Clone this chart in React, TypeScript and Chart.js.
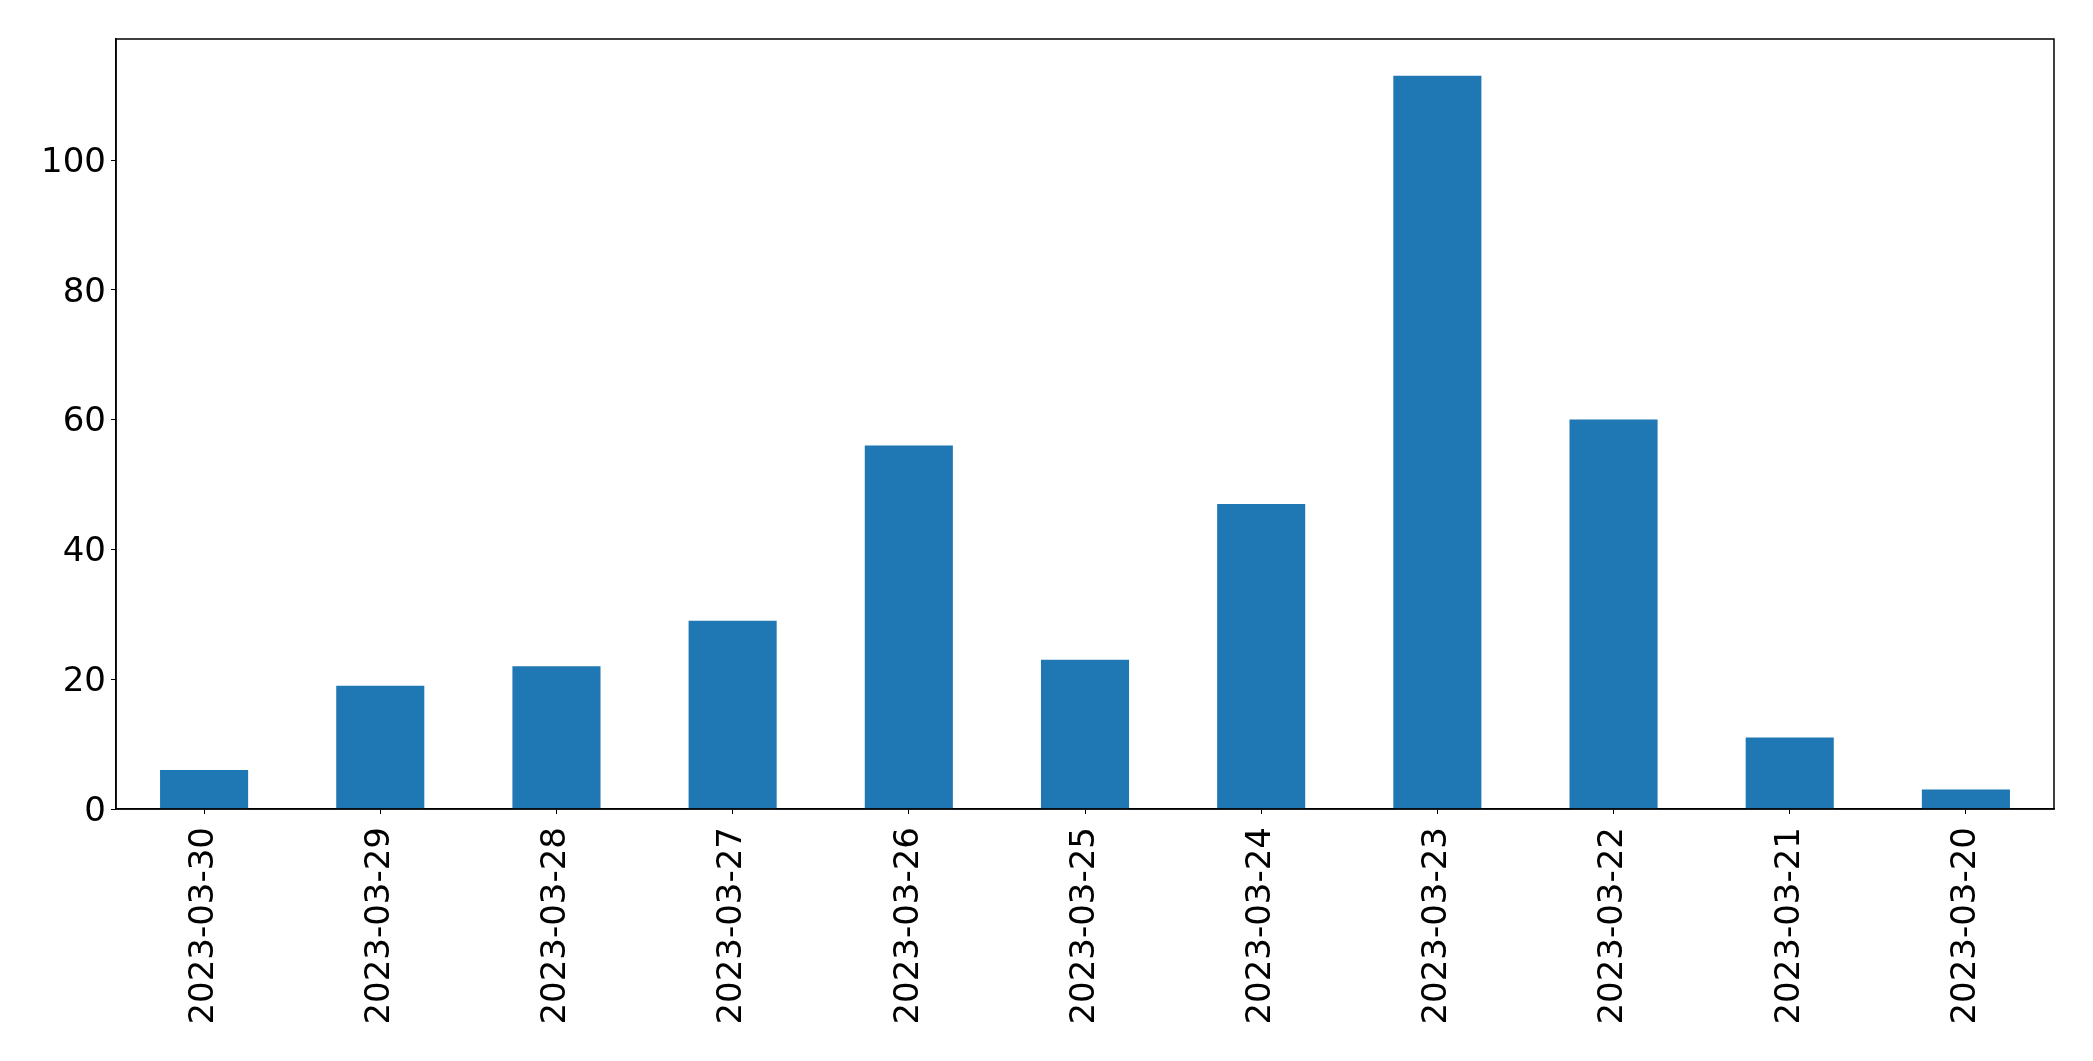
import React, { useEffect, useRef } from "react";
import { Chart, registerables } from "chart.js";

Chart.register(...registerables);

const categories = [
  "2023-03-30", "2023-03-29", "2023-03-28", "2023-03-27", "2023-03-26", "2023-03-25",
  "2023-03-24", "2023-03-23", "2023-03-22", "2023-03-21", "2023-03-20",
];
const counts = [6, 19, 22, 29, 56, 23, 47, 113, 60, 11, 3];
const yTicks = [0, 20, 40, 60, 80, 100];
const yMax = 118.65;

const W = 2093;
const H = 1061;
const FONT = "'DejaVu Sans', sans-serif";

const framePlugin = {
  id: "frame",
  afterDraw(chart: any) {
    const { ctx, chartArea } = chart;
    ctx.save();
    ctx.strokeStyle = "#000";
    ctx.lineWidth = 1.5;
    ctx.strokeRect(chartArea.left, chartArea.top, chartArea.right - chartArea.left, chartArea.bottom - chartArea.top);
    ctx.restore();
  },
};

export default function App() {
  const ref = useRef<HTMLCanvasElement>(null);
  useEffect(() => {
    if (!ref.current) return;
    const chart = new Chart(ref.current, {
      type: "bar",
      data: {
        labels: categories,
        datasets: [
          {
            data: counts,
            backgroundColor: "#1f77b4",
            borderWidth: 0,
            barPercentage: 0.5,
            categoryPercentage: 1,
          },
        ],
      },
      options: {
        animation: false,
        responsive: false,
        maintainAspectRatio: false,
        layout: { padding: { top: 39, right: 39, left: 0, bottom: 0 } },
        plugins: { legend: { display: false }, tooltip: { enabled: false } },
        scales: {
          x: {
            offset: true,
            grid: { display: true, drawOnChartArea: false, drawTicks: true, tickLength: 5, color: "#000", offset: false },
            border: { display: true, color: "#000", width: 1.5 },
            ticks: {
              color: "#000",
              font: { family: FONT, size: 34 },
              minRotation: 90,
              maxRotation: 90,
              padding: 13,
              autoSkip: false,
            },
            afterFit(scale: any) {
              scale.height = H - 809;
            },
          },
          y: {
            min: 0,
            max: yMax,
            grid: { display: true, drawOnChartArea: false, drawTicks: true, tickLength: 5, color: "#000" },
            border: { display: true, color: "#000", width: 1.5 },
            ticks: {
              color: "#000",
              font: { family: FONT, size: 34 },
              padding: 5,
              labelOffset: 3,
            },
            afterBuildTicks(scale: any) {
              scale.ticks = yTicks.map((v) => ({ value: v }));
            },
            afterFit(scale: any) {
              scale.width = 116;
            },
          },
        },
      },
      plugins: [framePlugin],
    });
    return () => chart.destroy();
  }, []);
  return (
    <div style={{ position: "fixed", left: 0, top: 0, width: W, height: H, background: "#fff" }}>
      <canvas ref={ref} width={W} height={H} style={{ width: W, height: H }} />
    </div>
  );
}
